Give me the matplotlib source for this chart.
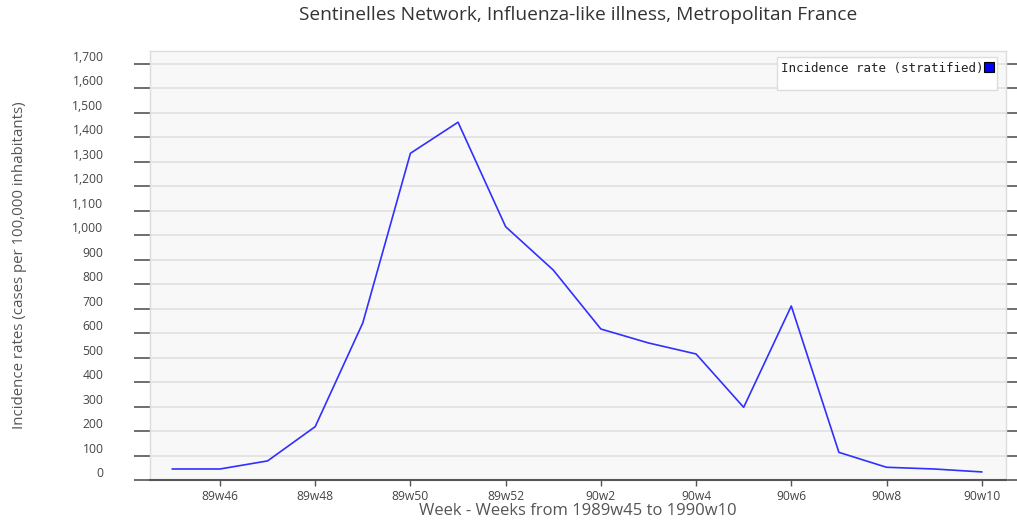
import matplotlib
matplotlib.use("Agg")
import matplotlib.pyplot as plt
from matplotlib.lines import Line2D
from matplotlib.ticker import FuncFormatter, MultipleLocator

weeks = ["89w45", "89w46", "89w47", "89w48", "89w49", "89w50", "89w51", "89w52",
         "90w1", "90w2", "90w3", "90w4", "90w5", "90w6", "90w7", "90w8", "90w9", "90w10"]
incidence = [45, 45, 78, 218, 642, 1335, 1462, 1035, 858, 617, 560, 515, 297, 711,
             113, 52, 45, 33]
tick_labels = ["89w46", "89w48", "89w50", "89w52", "90w2", "90w4", "90w6", "90w8", "90w10"]

plt.rcParams['font.family'] = ['Open Sans', 'DejaVu Sans']

fig = plt.figure(figsize=(10.17, 5.22), dpi=100)
ax = fig.add_axes([150/1017, 42/522, (1006-150)/1017, (480-51)/522])
ax.set_facecolor('#f8f8f8')

x = list(range(len(weeks)))
ax.plot(x, incidence, color='#3030ff', lw=1.2)

ax.set_xlim(-0.47, len(weeks) - 1 + 0.51)
ax.set_ylim(0, 1753)

ax.yaxis.set_major_locator(MultipleLocator(100))
ax.yaxis.set_major_formatter(FuncFormatter(lambda v, p: f"{int(v):,}"))
ax.grid(axis='y', color='#e2e2e2', lw=1.3)
ax.set_axisbelow(True)

tpos = [weeks.index(t) for t in tick_labels]
ax.set_xticks(tpos)
ax.set_xticklabels(tick_labels)

ax.tick_params(axis='y', which='both', direction='out', length=11.5, width=1.2,
               color='#555555', labelsize=8.7, labelcolor='#444444', pad=22,
               right=True)
ax.tick_params(axis='x', direction='out', length=4, width=1, color='#555555',
               labelsize=8.7, labelcolor='#444444', pad=3)
for lab in ax.get_yticklabels():
    lab.set_verticalalignment('bottom')

for s in ['left', 'right', 'top']:
    ax.spines[s].set_color('#dddddd')
    ax.spines[s].set_linewidth(1)
ax.spines['bottom'].set_color('#555555')
ax.spines['bottom'].set_linewidth(1.5)

ax.set_title("Sentinelles Network, Influenza-like illness, Metropolitan France",
             fontsize=13.8, color='#333333', pad=22.5)
ax.set_xlabel("Week - Weeks from 1989w45 to 1990w10", fontsize=12,
              color='#555555', labelpad=0)
ax.set_ylabel("Incidence rates (cases per 100,000 inhabitants)", fontsize=10.8,
              color='#555555', labelpad=33)

handle = Line2D([], [], marker='s', color='none', markerfacecolor='#0000ff',
                markeredgecolor='#000000', markersize=7, markeredgewidth=0.8)
blank = Line2D([], [], color='none')
leg = ax.legend([handle, blank], ["Incidence rate (stratified)", " "],
                loc='upper right', bbox_to_anchor=(0.9895, 0.985),
                markerfirst=False, fancybox=False, framealpha=1,
                edgecolor='#dddddd', handlelength=0.6, handletextpad=0.1,
                borderpad=0.35, borderaxespad=0, labelspacing=-0.2,
                prop={'family': 'DejaVu Sans Mono', 'size': 9})
leg.get_frame().set_linewidth(1)
for t in leg.get_texts():
    t.set_color('#222222')

fig.savefig("out.png", dpi=100)
